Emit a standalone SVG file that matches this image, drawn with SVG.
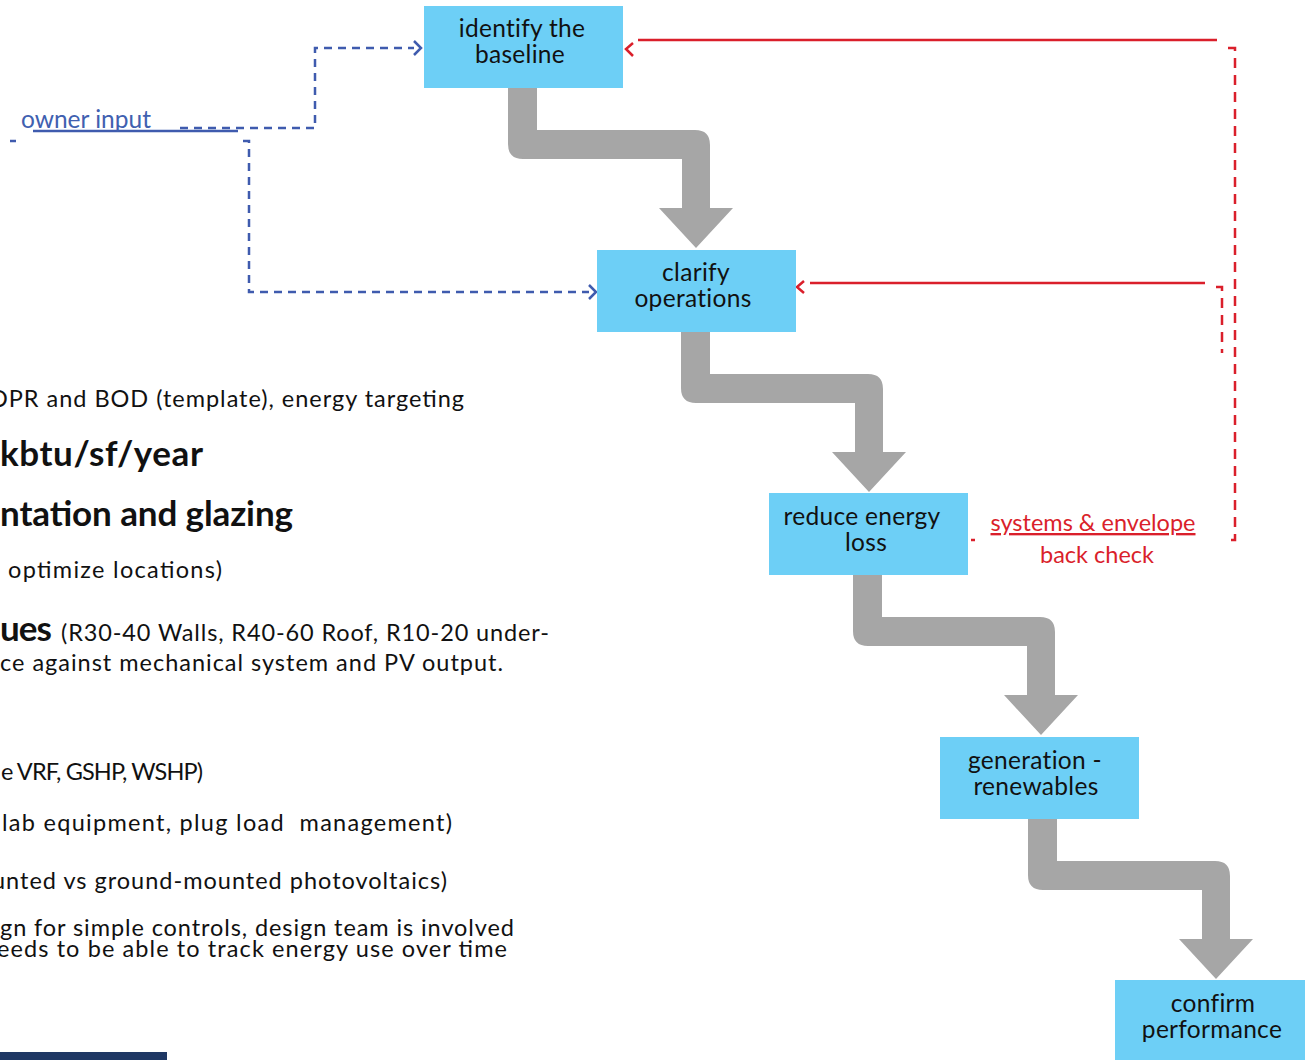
<svg xmlns="http://www.w3.org/2000/svg" width="1305" height="1060" viewBox="0 0 1305 1060">
<style>
.box{fill:#6DCFF6;}
.lbl{font-family:Lato,"Liberation Sans",sans-serif;font-size:24.5px;letter-spacing:0.3px;fill:#111;text-anchor:middle;}
.flow{fill:#A6A6A6;}
.body{font-family:Lato,"Liberation Sans",sans-serif;font-size:23.5px;fill:#111;}
.big{font-family:Lato,"Liberation Sans",sans-serif;font-size:35px;font-weight:bold;fill:#111;}
.blue{fill:none;stroke:#3F5BAE;stroke-width:2.5;}
.bdash{stroke-dasharray:8 6;}
.red{fill:none;stroke:#DA1F2B;stroke-width:2.5;}
.rdash{stroke-dasharray:10 7;}
.btxt{font-family:Lato,"Liberation Sans",sans-serif;font-size:24.5px;fill:#4060B0;}
.rtxt{font-family:Lato,"Liberation Sans",sans-serif;font-size:23.5px;fill:#DA1F2B;}
</style>
<rect width="1305" height="1060" fill="#fff"/>

<g id="left-text">
<text class="body" x="-11" y="407" textLength="475" lengthAdjust="spacing">OPR and BOD (template), energy targeting</text>
<text class="big" x="0" y="466" textLength="203" lengthAdjust="spacing">kbtu/sf/year</text>
<text class="big" x="0" y="526" textLength="293" lengthAdjust="spacing">ntation and glazing</text>
<text class="body" x="8" y="578" textLength="214" lengthAdjust="spacing">optimize locations)</text>
<text class="big" x="0" y="641" font-size="31px" textLength="52" lengthAdjust="spacing">ues</text>
<text class="body" x="61" y="641" textLength="488" lengthAdjust="spacing">(R30-40 Walls, R40-60 Roof, R10-20 under-</text>
<text class="body" x="0" y="671" textLength="503" lengthAdjust="spacing">ce against mechanical system and PV output.</text>
<text class="body" x="1" y="780" textLength="202" lengthAdjust="spacing">e VRF, GSHP, WSHP)</text>
<text class="body" x="2" y="831" textLength="450" lengthAdjust="spacing" xml:space="preserve">lab equipment, plug load  management)</text>
<text class="body" x="-8" y="889" textLength="455" lengthAdjust="spacing">unted vs ground-mounted photovoltaics)</text>
<text class="body" x="0" y="936" textLength="514" lengthAdjust="spacing">gn for simple controls, design team is involved</text>
<text class="body" x="-3" y="957" textLength="510" lengthAdjust="spacing">eeds to be able to track energy use over time</text>
<rect x="0" y="1052" width="167" height="8" fill="#1F3864"/>
</g>

<g id="connectors">
<path class="flow" d="M508,88 L508,144 Q508,159 523,159 L682,159 L682,208 L659,208 L696,248 L733,208 L710,208 L710,145 Q710,130 695,130 L537,130 L537,88 Z"/>
<path class="flow" d="M681,332 L681,388 Q681,403 696,403 L855,403 L855,452 L832,452 L869,492 L906,452 L883,452 L883,389 Q883,374 868,374 L710,374 L710,332 Z"/>
<path class="flow" d="M853,575 L853,631 Q853,646 868,646 L1027,646 L1027,695 L1004,695 L1041,735 L1078,695 L1055,695 L1055,632 Q1055,617 1040,617 L882,617 L882,575 Z"/>
<path class="flow" d="M1028,819 L1028,875 Q1028,890 1043,890 L1202,890 L1202,939 L1179,939 L1216,979 L1253,939 L1230,939 L1230,876 Q1230,861 1215,861 L1057,861 L1057,819 Z"/>

<g id="owner-input">
<line class="blue" x1="33" y1="131" x2="238" y2="131" stroke-width="2"/>
<line class="blue" x1="10" y1="141" x2="16" y2="141"/>
<path class="blue bdash" d="M180,128 H315 V48 H414"/>
<polyline class="blue" points="414,41 421,48 414,55"/>
<path class="blue bdash" d="M243,141 H249 V292 H589"/>
<polyline class="blue" points="589,285 596,292 589,299"/>
<text class="btxt" x="21" y="128">owner input</text>
</g>

<g id="back-check">
<line class="red" x1="638" y1="40" x2="1217" y2="40"/>
<polyline class="red" points="633,43 626,49 633,56"/>
<path class="red rdash" d="M1228,48 H1235 V540 H1228"/>
<line class="red" x1="810" y1="283" x2="1205" y2="283"/>
<polyline class="red" points="804,281 797,287 804,293"/>
<path class="red rdash" d="M1216,287 H1222 V353"/>
<line class="red" x1="971" y1="540" x2="975" y2="540"/>
<text class="rtxt" x="1093" y="531" text-anchor="middle" text-decoration="underline">systems &amp; envelope</text>
<text class="rtxt" x="1097" y="563" text-anchor="middle">back check</text>
</g>
</g>

<g id="n1"><rect class="box" x="424" y="6" width="199" height="82"/><text class="lbl" x="522" y="37">identify the</text><text class="lbl" x="520" y="63">baseline</text></g>
<g id="n2"><rect class="box" x="597" y="250" width="199" height="82"/><text class="lbl" x="696" y="281">clarify</text><text class="lbl" x="693" y="307">operations</text></g>
<g id="n3"><rect class="box" x="769" y="493" width="199" height="82"/><text class="lbl" x="862" y="525">reduce energy</text><text class="lbl" x="866" y="551">loss</text></g>
<g id="n4"><rect class="box" x="940" y="737" width="199" height="82"/><text class="lbl" x="1035" y="769">generation -</text><text class="lbl" x="1036" y="795">renewables</text></g>
<g id="n5"><rect class="box" x="1115" y="980" width="190" height="80"/><text class="lbl" x="1213" y="1012">confirm</text><text class="lbl" x="1212" y="1038">performance</text></g>
</svg>
